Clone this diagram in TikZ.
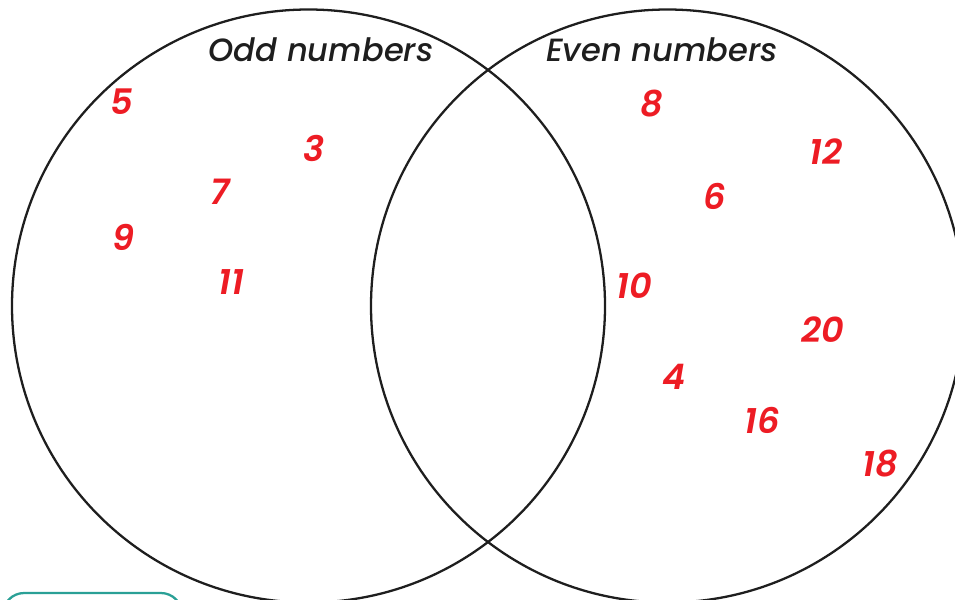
\documentclass[tikz,border=0pt]{standalone}
\usepackage{fontspec}
\setmainfont{Poppins}
\newfontfamily\titlefont{Poppins Medium Italic}
\newfontfamily\numfont{Poppins SemiBold Italic}
\usepackage{tikz}
\usepackage{xcolor}
\definecolor{numred}{RGB}{237,28,36}
\definecolor{tealbox}{RGB}{42,160,150}
\definecolor{ringblack}{RGB}{30,30,30}

\begin{document}
\begin{tikzpicture}[x=0.02cm,y=-0.02cm,
	ring/.style={draw=ringblack, line width=1.3pt},
	setlabel/.style={font=\fontsize{18.3}{22}\selectfont\titlefont, text=ringblack, inner sep=0pt},
	num/.style={font=\fontsize{20}{24}\selectfont\numfont, text=numred, inner sep=0pt}]
	
	\useasboundingbox (0,0) rectangle (955,599);
	
	% ---- the two sets ----
	\begin{scope}
		\clip (0,0) rectangle (955,599);
		\node[ring, circle, minimum size=593*0.02cm, inner sep=0pt] (Odd) at (308.5,306) {};
		\node[ring, circle, minimum size=593*0.02cm, inner sep=0pt] (Even) at (667.5,306) {};
		% ---- teal box, cut off at the bottom ----
		\draw[tealbox, line width=1.3pt, rounded corners=12pt] (3,620) -- (3,593) -- (182,593) -- (182,620);
	\end{scope}
	
	% ---- titles ----
	\node[setlabel] (OddT) at (321,50) {Odd numbers};
	\node[setlabel] (EvenT) at (662,50) {Even numbers};
	
	% ---- left: odd ----
	\node[num] (n5) at (122,102) {5};
	\node[num] (n3) at (314,148) {3};
	\node[num] (n7) at (220,192) {7};
	\node[num] (n9) at (123,237) {9};
	\node[num] (n11) at (231,282) {11};
	
	% ---- right: even ----
	\node[num] (n8) at (652,104) {8};
	\node[num] (n12) at (826,152) {12};
	\node[num] (n6) at (715,196) {6};
	\node[num] (n10) at (634,286) {10};
	\node[num] (n20) at (823,330) {20};
	\node[num] (n4) at (674,377) {4};
	\node[num] (n16) at (762,420) {16};
	\node[num] (n18) at (880,464) {18};
	
\end{tikzpicture}
\end{document}
